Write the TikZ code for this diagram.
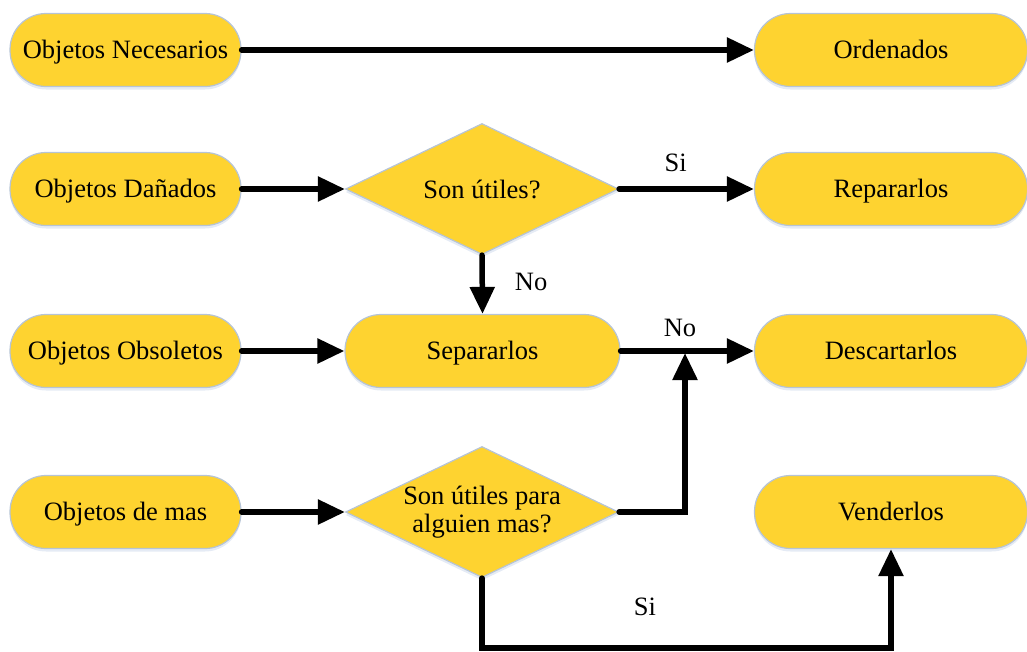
\documentclass[tikz,border=0pt]{standalone}
\usepackage{fontspec}
\setmainfont{Liberation Serif}
\usetikzlibrary{arrows.meta,shapes.geometric,shadows}
\definecolor{boxfill}{RGB}{254,211,48}
\definecolor{boxline}{RGB}{182,196,214}
\definecolor{shade}{RGB}{150,175,215}
\begin{document}
\begin{tikzpicture}[x=1pt,y=-1pt,
  every node/.style={font=\fontsize{26.5}{28}\selectfont},
  pill/.style={draw=boxline, line width=1.2pt, fill=boxfill, rounded corners=36pt,
    minimum height=73pt, inner sep=0pt, text depth=2pt,
    drop shadow={shadow xshift=0pt, shadow yshift=-3pt, fill=shade, opacity=0.25}},
  leftpill/.style={pill, minimum width=231pt},
  rightpill/.style={pill, minimum width=273pt},
  dia/.style={diamond, draw=boxline, line width=1.2pt, fill=boxfill, inner sep=0pt,
    minimum width=273pt, minimum height=131pt, aspect=2.08,
    drop shadow={shadow xshift=0pt, shadow yshift=-3pt, fill=shade, opacity=0.25}},
  arr/.style={line width=5.5pt, line cap=round, -{Triangle[length=27pt,width=24pt]}},
  lbl/.style={inner sep=0pt}
]
\useasboundingbox (0,0) rectangle (1027,651);

% left column
\node[leftpill] (nec) at (125.5,50) {Objetos Necesarios};
\node[leftpill] (dan) at (125.5,189) {Objetos Dañados};
\node[leftpill] (obs) at (125.5,351) {Objetos Obsoletos};
\node[leftpill] (mas) at (125.5,512) {Objetos de mas};

% middle column
\node[dia, label={[lbl]center:Son útiles?}] (d1) at (482,189) {};
\node[pill, minimum width=275pt] (sep) at (482.5,351) {Separarlos};
\node[dia, label={[lbl,align=center]center:Son útiles para\\alguien mas?}] (d2) at (482,512) {};

% right column
\node[rightpill] (ord) at (891,50) {Ordenados};
\node[rightpill] (rep) at (891,189) {Repararlos};
\node[rightpill] (des) at (891,351) {Descartarlos};
\node[rightpill] (ven) at (891,512) {Venderlos};

% connectors
\draw[arr] (nec) -- (ord);
\draw[arr] (dan) -- (d1);
\draw[arr] (d1) -- node[lbl, above=14pt, pos=0.42] (si1) {Si} (rep);
\draw[arr] (d1.south) -- node[lbl, right=30pt, pos=0.45] (no1) {No} (sep.north);
\draw[arr] (obs) -- (sep);
\draw[arr] (sep) -- (des);
\node[lbl] (no2) at (680,328) {No};
\coordinate (join) at (685,353);
\draw[arr] (d2.east) -| (join);
\draw[arr] (mas) -- (d2);
\coordinate (bot) at (483,648);
\draw[arr] (d2.south) -- (d2.south |- bot) -| (ven.south);
\node[lbl] (si2) at (645,607) {Si};
\end{tikzpicture}
\end{document}
